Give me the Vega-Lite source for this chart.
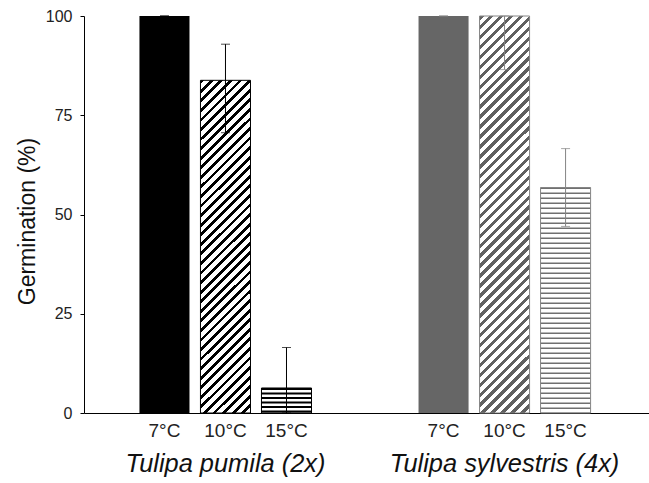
{
  "$schema": "https://vega.github.io/schema/vega-lite/v6.json",
  "width": 565,
  "height": 397,
  "autosize": "none",
  "padding": {"left": 84, "top": 16, "right": 0, "bottom": 70},
  "background": "#ffffff",
  "config": {
    "view": {"stroke": null},
    "font": "Liberation Sans"
  },
  "data": {
    "values": [
      {"species": "Tulipa pumila (2x)", "temp": "7°C", "value": 100, "lo": 100, "hi": 100},
      {"species": "Tulipa pumila (2x)", "temp": "10°C", "value": 83.8, "lo": 70.6, "hi": 92.9},
      {"species": "Tulipa pumila (2x)", "temp": "15°C", "value": 6.3, "lo": 0, "hi": 16.5},
      {"species": "Tulipa sylvestris (4x)", "temp": "7°C", "value": 100, "lo": 100, "hi": 100},
      {"species": "Tulipa sylvestris (4x)", "temp": "10°C", "value": 100, "lo": 86.5, "hi": 100},
      {"species": "Tulipa sylvestris (4x)", "temp": "15°C", "value": 56.8, "lo": 47, "hi": 66.6}
    ]
  },
  "encoding": {
    "x": {
      "field": "species", "type": "nominal",
      "scale": {"domain": ["Tulipa pumila (2x)", "Tulipa sylvestris (4x)"], "paddingInner": 0.3835, "paddingOuter": 0.204, "align": 0.487},
      "axis": {"title": null, "ticks": false, "tickSize": 0, "labelAngle": 0, "labelLimit": 0, "labelFontSize": 25.4, "labelFontStyle": "italic", "labelColor": "#111111", "labelBaseline": "alphabetic", "labelPadding": 58.5, "domainColor": "#000000", "domainWidth": 1}
    },
    "xOffset": {
      "field": "temp", "type": "nominal",
      "scale": {"domain": ["7°C", "10°C", "15°C"], "paddingInner": 0.18, "paddingOuter": 0}
    }
  },
  "layer": [
    {
      "transform": [{"filter": "datum.temp == '7°C'"}],
      "mark": {"type": "bar"},
      "encoding": {
        "y": {
          "field": "value", "type": "quantitative",
          "scale": {"domain": [0, 100], "nice": false},
          "axis": {"values": [0, 25, 50, 75, 100], "grid": false, "tickSize": 4, "tickColor": "#000000", "domainColor": "#000000", "labelFontSize": 16, "labelColor": "#222222", "labelPadding": 8, "title": "Germination (%)", "titleFontSize": 23, "titleFontWeight": "normal", "titleColor": "#111111", "titleAngle": -90, "titleAlign": "center", "titleBaseline": "middle", "titleX": -57, "titleY": 205}
        },
        "fill": {"field": "species", "type": "nominal", "scale": {"domain": ["Tulipa pumila (2x)", "Tulipa sylvestris (4x)"], "range": ["#000000", "#666666"]}, "legend": null}
      }
    },
    {
      "transform": [{"filter": "datum.temp == '10°C' && datum.species == 'Tulipa pumila (2x)'"}],
      "mark": {"type": "bar", "fill": {"gradient": "linear", "x1": 0, "y1": 0, "x2": 0.1686, "y2": 1.1247, "stops": [
        {"offset": 0, "color": "#000"}, {"offset": 0.01, "color": "#000"}, {"offset": 0.01, "color": "#fff"}, {"offset": 0.025, "color": "#fff"},
        {"offset": 0.025, "color": "#000"}, {"offset": 0.035, "color": "#000"}, {"offset": 0.035, "color": "#fff"}, {"offset": 0.05, "color": "#fff"},
        {"offset": 0.05, "color": "#000"}, {"offset": 0.06, "color": "#000"}, {"offset": 0.06, "color": "#fff"}, {"offset": 0.075, "color": "#fff"},
        {"offset": 0.075, "color": "#000"}, {"offset": 0.085, "color": "#000"}, {"offset": 0.085, "color": "#fff"}, {"offset": 0.1, "color": "#fff"},
        {"offset": 0.1, "color": "#000"}, {"offset": 0.11, "color": "#000"}, {"offset": 0.11, "color": "#fff"}, {"offset": 0.125, "color": "#fff"},
        {"offset": 0.125, "color": "#000"}, {"offset": 0.135, "color": "#000"}, {"offset": 0.135, "color": "#fff"}, {"offset": 0.15, "color": "#fff"},
        {"offset": 0.15, "color": "#000"}, {"offset": 0.16, "color": "#000"}, {"offset": 0.16, "color": "#fff"}, {"offset": 0.175, "color": "#fff"},
        {"offset": 0.175, "color": "#000"}, {"offset": 0.185, "color": "#000"}, {"offset": 0.185, "color": "#fff"}, {"offset": 0.2, "color": "#fff"},
        {"offset": 0.2, "color": "#000"}, {"offset": 0.21, "color": "#000"}, {"offset": 0.21, "color": "#fff"}, {"offset": 0.225, "color": "#fff"},
        {"offset": 0.225, "color": "#000"}, {"offset": 0.235, "color": "#000"}, {"offset": 0.235, "color": "#fff"}, {"offset": 0.25, "color": "#fff"},
        {"offset": 0.25, "color": "#000"}, {"offset": 0.26, "color": "#000"}, {"offset": 0.26, "color": "#fff"}, {"offset": 0.275, "color": "#fff"},
        {"offset": 0.275, "color": "#000"}, {"offset": 0.285, "color": "#000"}, {"offset": 0.285, "color": "#fff"}, {"offset": 0.3, "color": "#fff"},
        {"offset": 0.3, "color": "#000"}, {"offset": 0.31, "color": "#000"}, {"offset": 0.31, "color": "#fff"}, {"offset": 0.325, "color": "#fff"},
        {"offset": 0.325, "color": "#000"}, {"offset": 0.335, "color": "#000"}, {"offset": 0.335, "color": "#fff"}, {"offset": 0.35, "color": "#fff"},
        {"offset": 0.35, "color": "#000"}, {"offset": 0.36, "color": "#000"}, {"offset": 0.36, "color": "#fff"}, {"offset": 0.375, "color": "#fff"},
        {"offset": 0.375, "color": "#000"}, {"offset": 0.385, "color": "#000"}, {"offset": 0.385, "color": "#fff"}, {"offset": 0.4, "color": "#fff"},
        {"offset": 0.4, "color": "#000"}, {"offset": 0.41, "color": "#000"}, {"offset": 0.41, "color": "#fff"}, {"offset": 0.425, "color": "#fff"},
        {"offset": 0.425, "color": "#000"}, {"offset": 0.435, "color": "#000"}, {"offset": 0.435, "color": "#fff"}, {"offset": 0.45, "color": "#fff"},
        {"offset": 0.45, "color": "#000"}, {"offset": 0.46, "color": "#000"}, {"offset": 0.46, "color": "#fff"}, {"offset": 0.475, "color": "#fff"},
        {"offset": 0.475, "color": "#000"}, {"offset": 0.485, "color": "#000"}, {"offset": 0.485, "color": "#fff"}, {"offset": 0.5, "color": "#fff"},
        {"offset": 0.5, "color": "#000"}, {"offset": 0.51, "color": "#000"}, {"offset": 0.51, "color": "#fff"}, {"offset": 0.525, "color": "#fff"},
        {"offset": 0.525, "color": "#000"}, {"offset": 0.535, "color": "#000"}, {"offset": 0.535, "color": "#fff"}, {"offset": 0.55, "color": "#fff"},
        {"offset": 0.55, "color": "#000"}, {"offset": 0.56, "color": "#000"}, {"offset": 0.56, "color": "#fff"}, {"offset": 0.575, "color": "#fff"},
        {"offset": 0.575, "color": "#000"}, {"offset": 0.585, "color": "#000"}, {"offset": 0.585, "color": "#fff"}, {"offset": 0.6, "color": "#fff"},
        {"offset": 0.6, "color": "#000"}, {"offset": 0.61, "color": "#000"}, {"offset": 0.61, "color": "#fff"}, {"offset": 0.625, "color": "#fff"},
        {"offset": 0.625, "color": "#000"}, {"offset": 0.635, "color": "#000"}, {"offset": 0.635, "color": "#fff"}, {"offset": 0.65, "color": "#fff"},
        {"offset": 0.65, "color": "#000"}, {"offset": 0.66, "color": "#000"}, {"offset": 0.66, "color": "#fff"}, {"offset": 0.675, "color": "#fff"},
        {"offset": 0.675, "color": "#000"}, {"offset": 0.685, "color": "#000"}, {"offset": 0.685, "color": "#fff"}, {"offset": 0.7, "color": "#fff"},
        {"offset": 0.7, "color": "#000"}, {"offset": 0.71, "color": "#000"}, {"offset": 0.71, "color": "#fff"}, {"offset": 0.725, "color": "#fff"},
        {"offset": 0.725, "color": "#000"}, {"offset": 0.735, "color": "#000"}, {"offset": 0.735, "color": "#fff"}, {"offset": 0.75, "color": "#fff"},
        {"offset": 0.75, "color": "#000"}, {"offset": 0.76, "color": "#000"}, {"offset": 0.76, "color": "#fff"}, {"offset": 0.775, "color": "#fff"},
        {"offset": 0.775, "color": "#000"}, {"offset": 0.785, "color": "#000"}, {"offset": 0.785, "color": "#fff"}, {"offset": 0.8, "color": "#fff"},
        {"offset": 0.8, "color": "#000"}, {"offset": 0.81, "color": "#000"}, {"offset": 0.81, "color": "#fff"}, {"offset": 0.825, "color": "#fff"},
        {"offset": 0.825, "color": "#000"}, {"offset": 0.835, "color": "#000"}, {"offset": 0.835, "color": "#fff"}, {"offset": 0.85, "color": "#fff"},
        {"offset": 0.85, "color": "#000"}, {"offset": 0.86, "color": "#000"}, {"offset": 0.86, "color": "#fff"}, {"offset": 0.875, "color": "#fff"},
        {"offset": 0.875, "color": "#000"}, {"offset": 0.885, "color": "#000"}, {"offset": 0.885, "color": "#fff"}, {"offset": 0.9, "color": "#fff"},
        {"offset": 0.9, "color": "#000"}, {"offset": 0.91, "color": "#000"}, {"offset": 0.91, "color": "#fff"}, {"offset": 0.925, "color": "#fff"},
        {"offset": 0.925, "color": "#000"}, {"offset": 0.935, "color": "#000"}, {"offset": 0.935, "color": "#fff"}, {"offset": 0.95, "color": "#fff"},
        {"offset": 0.95, "color": "#000"}, {"offset": 0.96, "color": "#000"}, {"offset": 0.96, "color": "#fff"}, {"offset": 0.975, "color": "#fff"},
        {"offset": 0.975, "color": "#000"}, {"offset": 0.985, "color": "#000"}, {"offset": 0.985, "color": "#fff"}, {"offset": 1, "color": "#fff"}
      ]}},
      "encoding": {"y": {"field": "value", "type": "quantitative"}}
    },
    {
      "transform": [{"filter": "datum.temp == '10°C' && datum.species == 'Tulipa sylvestris (4x)'"}],
      "mark": {"type": "bar", "fill": {"gradient": "linear", "x1": 0, "y1": 0, "x2": 0.1396, "y2": 1.1084, "stops": [
        {"offset": 0, "color": "#606060"}, {"offset": 0.01, "color": "#606060"}, {"offset": 0.01, "color": "#fff"}, {"offset": 0.0222, "color": "#fff"},
        {"offset": 0.0222, "color": "#606060"}, {"offset": 0.0322, "color": "#606060"}, {"offset": 0.0322, "color": "#fff"}, {"offset": 0.0444, "color": "#fff"},
        {"offset": 0.0444, "color": "#606060"}, {"offset": 0.0544, "color": "#606060"}, {"offset": 0.0544, "color": "#fff"}, {"offset": 0.0667, "color": "#fff"},
        {"offset": 0.0667, "color": "#606060"}, {"offset": 0.0767, "color": "#606060"}, {"offset": 0.0767, "color": "#fff"}, {"offset": 0.0889, "color": "#fff"},
        {"offset": 0.0889, "color": "#606060"}, {"offset": 0.0989, "color": "#606060"}, {"offset": 0.0989, "color": "#fff"}, {"offset": 0.1111, "color": "#fff"},
        {"offset": 0.1111, "color": "#606060"}, {"offset": 0.1211, "color": "#606060"}, {"offset": 0.1211, "color": "#fff"}, {"offset": 0.1333, "color": "#fff"},
        {"offset": 0.1333, "color": "#606060"}, {"offset": 0.1433, "color": "#606060"}, {"offset": 0.1433, "color": "#fff"}, {"offset": 0.1556, "color": "#fff"},
        {"offset": 0.1556, "color": "#606060"}, {"offset": 0.1656, "color": "#606060"}, {"offset": 0.1656, "color": "#fff"}, {"offset": 0.1778, "color": "#fff"},
        {"offset": 0.1778, "color": "#606060"}, {"offset": 0.1878, "color": "#606060"}, {"offset": 0.1878, "color": "#fff"}, {"offset": 0.2, "color": "#fff"},
        {"offset": 0.2, "color": "#606060"}, {"offset": 0.21, "color": "#606060"}, {"offset": 0.21, "color": "#fff"}, {"offset": 0.2222, "color": "#fff"},
        {"offset": 0.2222, "color": "#606060"}, {"offset": 0.2322, "color": "#606060"}, {"offset": 0.2322, "color": "#fff"}, {"offset": 0.2444, "color": "#fff"},
        {"offset": 0.2444, "color": "#606060"}, {"offset": 0.2544, "color": "#606060"}, {"offset": 0.2544, "color": "#fff"}, {"offset": 0.2667, "color": "#fff"},
        {"offset": 0.2667, "color": "#606060"}, {"offset": 0.2767, "color": "#606060"}, {"offset": 0.2767, "color": "#fff"}, {"offset": 0.2889, "color": "#fff"},
        {"offset": 0.2889, "color": "#606060"}, {"offset": 0.2989, "color": "#606060"}, {"offset": 0.2989, "color": "#fff"}, {"offset": 0.3111, "color": "#fff"},
        {"offset": 0.3111, "color": "#606060"}, {"offset": 0.3211, "color": "#606060"}, {"offset": 0.3211, "color": "#fff"}, {"offset": 0.3333, "color": "#fff"},
        {"offset": 0.3333, "color": "#606060"}, {"offset": 0.3433, "color": "#606060"}, {"offset": 0.3433, "color": "#fff"}, {"offset": 0.3556, "color": "#fff"},
        {"offset": 0.3556, "color": "#606060"}, {"offset": 0.3656, "color": "#606060"}, {"offset": 0.3656, "color": "#fff"}, {"offset": 0.3778, "color": "#fff"},
        {"offset": 0.3778, "color": "#606060"}, {"offset": 0.3878, "color": "#606060"}, {"offset": 0.3878, "color": "#fff"}, {"offset": 0.4, "color": "#fff"},
        {"offset": 0.4, "color": "#606060"}, {"offset": 0.41, "color": "#606060"}, {"offset": 0.41, "color": "#fff"}, {"offset": 0.4222, "color": "#fff"},
        {"offset": 0.4222, "color": "#606060"}, {"offset": 0.4322, "color": "#606060"}, {"offset": 0.4322, "color": "#fff"}, {"offset": 0.4444, "color": "#fff"},
        {"offset": 0.4444, "color": "#606060"}, {"offset": 0.4544, "color": "#606060"}, {"offset": 0.4544, "color": "#fff"}, {"offset": 0.4667, "color": "#fff"},
        {"offset": 0.4667, "color": "#606060"}, {"offset": 0.4767, "color": "#606060"}, {"offset": 0.4767, "color": "#fff"}, {"offset": 0.4889, "color": "#fff"},
        {"offset": 0.4889, "color": "#606060"}, {"offset": 0.4989, "color": "#606060"}, {"offset": 0.4989, "color": "#fff"}, {"offset": 0.5111, "color": "#fff"},
        {"offset": 0.5111, "color": "#606060"}, {"offset": 0.5211, "color": "#606060"}, {"offset": 0.5211, "color": "#fff"}, {"offset": 0.5333, "color": "#fff"},
        {"offset": 0.5333, "color": "#606060"}, {"offset": 0.5433, "color": "#606060"}, {"offset": 0.5433, "color": "#fff"}, {"offset": 0.5556, "color": "#fff"},
        {"offset": 0.5556, "color": "#606060"}, {"offset": 0.5656, "color": "#606060"}, {"offset": 0.5656, "color": "#fff"}, {"offset": 0.5778, "color": "#fff"},
        {"offset": 0.5778, "color": "#606060"}, {"offset": 0.5878, "color": "#606060"}, {"offset": 0.5878, "color": "#fff"}, {"offset": 0.6, "color": "#fff"},
        {"offset": 0.6, "color": "#606060"}, {"offset": 0.61, "color": "#606060"}, {"offset": 0.61, "color": "#fff"}, {"offset": 0.6222, "color": "#fff"},
        {"offset": 0.6222, "color": "#606060"}, {"offset": 0.6322, "color": "#606060"}, {"offset": 0.6322, "color": "#fff"}, {"offset": 0.6444, "color": "#fff"},
        {"offset": 0.6444, "color": "#606060"}, {"offset": 0.6544, "color": "#606060"}, {"offset": 0.6544, "color": "#fff"}, {"offset": 0.6667, "color": "#fff"},
        {"offset": 0.6667, "color": "#606060"}, {"offset": 0.6767, "color": "#606060"}, {"offset": 0.6767, "color": "#fff"}, {"offset": 0.6889, "color": "#fff"},
        {"offset": 0.6889, "color": "#606060"}, {"offset": 0.6989, "color": "#606060"}, {"offset": 0.6989, "color": "#fff"}, {"offset": 0.7111, "color": "#fff"},
        {"offset": 0.7111, "color": "#606060"}, {"offset": 0.7211, "color": "#606060"}, {"offset": 0.7211, "color": "#fff"}, {"offset": 0.7333, "color": "#fff"},
        {"offset": 0.7333, "color": "#606060"}, {"offset": 0.7433, "color": "#606060"}, {"offset": 0.7433, "color": "#fff"}, {"offset": 0.7556, "color": "#fff"},
        {"offset": 0.7556, "color": "#606060"}, {"offset": 0.7656, "color": "#606060"}, {"offset": 0.7656, "color": "#fff"}, {"offset": 0.7778, "color": "#fff"},
        {"offset": 0.7778, "color": "#606060"}, {"offset": 0.7878, "color": "#606060"}, {"offset": 0.7878, "color": "#fff"}, {"offset": 0.8, "color": "#fff"},
        {"offset": 0.8, "color": "#606060"}, {"offset": 0.81, "color": "#606060"}, {"offset": 0.81, "color": "#fff"}, {"offset": 0.8222, "color": "#fff"},
        {"offset": 0.8222, "color": "#606060"}, {"offset": 0.8322, "color": "#606060"}, {"offset": 0.8322, "color": "#fff"}, {"offset": 0.8444, "color": "#fff"},
        {"offset": 0.8444, "color": "#606060"}, {"offset": 0.8544, "color": "#606060"}, {"offset": 0.8544, "color": "#fff"}, {"offset": 0.8667, "color": "#fff"},
        {"offset": 0.8667, "color": "#606060"}, {"offset": 0.8767, "color": "#606060"}, {"offset": 0.8767, "color": "#fff"}, {"offset": 0.8889, "color": "#fff"},
        {"offset": 0.8889, "color": "#606060"}, {"offset": 0.8989, "color": "#606060"}, {"offset": 0.8989, "color": "#fff"}, {"offset": 0.9111, "color": "#fff"},
        {"offset": 0.9111, "color": "#606060"}, {"offset": 0.9211, "color": "#606060"}, {"offset": 0.9211, "color": "#fff"}, {"offset": 0.9333, "color": "#fff"},
        {"offset": 0.9333, "color": "#606060"}, {"offset": 0.9433, "color": "#606060"}, {"offset": 0.9433, "color": "#fff"}, {"offset": 0.9556, "color": "#fff"},
        {"offset": 0.9556, "color": "#606060"}, {"offset": 0.9656, "color": "#606060"}, {"offset": 0.9656, "color": "#fff"}, {"offset": 0.9778, "color": "#fff"},
        {"offset": 0.9778, "color": "#606060"}, {"offset": 0.9878, "color": "#606060"}, {"offset": 0.9878, "color": "#fff"}, {"offset": 1, "color": "#fff"}
      ]}},
      "encoding": {"y": {"field": "value", "type": "quantitative"}}
    },
    {
      "transform": [{"filter": "datum.temp == '15°C'"}],
      "mark": {"type": "bar", "fill": "#ffffff"},
      "encoding": {"y": {"field": "value", "type": "quantitative"}}
    },
    {
      "transform": [{"filter": "datum.temp == '15°C' && datum.species == 'Tulipa pumila (2x)'"}],
      "mark": {"type": "rule", "stroke": "#000000", "strokeWidth": 50, "strokeDash": [2, 2.5]},
      "encoding": {"y": {"field": "value", "type": "quantitative"}, "y2": {"datum": 0}}
    },
    {
      "transform": [{"filter": "datum.temp == '15°C' && datum.species == 'Tulipa sylvestris (4x)'"}],
      "mark": {"type": "rule", "stroke": "#707070", "strokeWidth": 50, "strokeDash": [1.5, 3.5]},
      "encoding": {"y": {"field": "value", "type": "quantitative"}, "y2": {"datum": 0}}
    },
    {
      "transform": [{"filter": "datum.temp != '7°C'"}],
      "mark": {"type": "bar", "fillOpacity": 0, "strokeWidth": 1},
      "encoding": {
        "y": {"field": "value", "type": "quantitative"},
        "stroke": {"field": "species", "type": "nominal", "scale": {"domain": ["Tulipa pumila (2x)", "Tulipa sylvestris (4x)"], "range": ["#000000", "#858585"]}, "legend": null}
      }
    },
    {
      "mark": {"type": "rule", "strokeWidth": 1},
      "encoding": {
        "y": {"field": "lo", "type": "quantitative"},
        "y2": {"field": "hi"},
        "stroke": {"field": "species", "type": "nominal", "legend": null}
      }
    },
    {
      "mark": {"type": "tick", "size": 9, "thickness": 1},
      "encoding": {
        "y": {"field": "hi", "type": "quantitative"},
        "color": {"field": "species", "type": "nominal", "scale": {"domain": ["Tulipa pumila (2x)", "Tulipa sylvestris (4x)"], "range": ["#000000", "#808080"]}, "legend": null}
      }
    },
    {
      "mark": {"type": "tick", "size": 9, "thickness": 1},
      "encoding": {
        "y": {"field": "lo", "type": "quantitative"},
        "color": {"field": "species", "type": "nominal", "legend": null}
      }
    },
    {
      "mark": {"type": "text", "fontSize": 19, "fill": "#222222", "baseline": "alphabetic", "align": "center", "dy": 24},
      "encoding": {
        "y": {"datum": 0, "type": "quantitative"},
        "text": {"field": "temp"}
      }
    }
  ]
}
